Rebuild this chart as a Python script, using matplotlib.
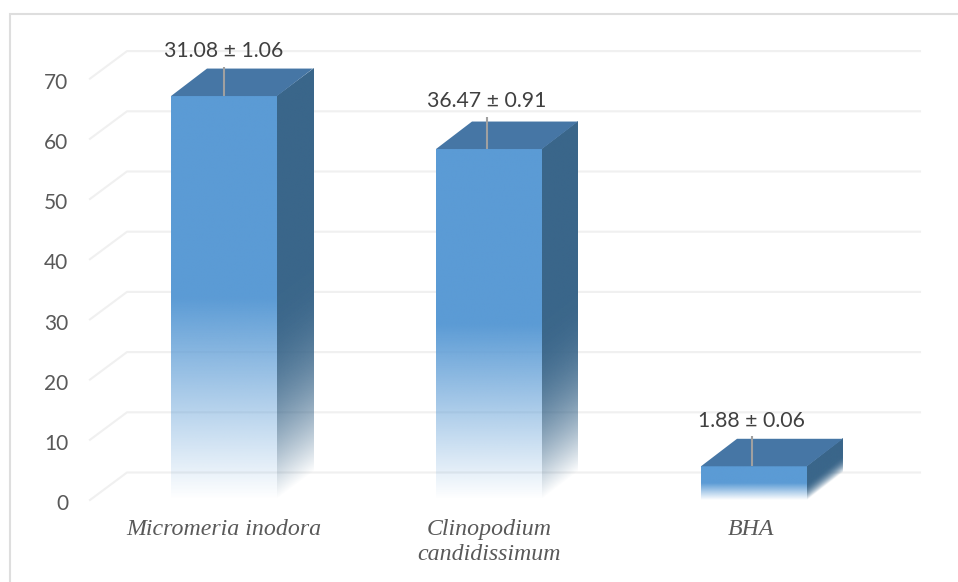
import matplotlib
matplotlib.use("Agg")
import matplotlib.pyplot as plt
import numpy as np
from matplotlib.patches import Polygon
from matplotlib.transforms import Affine2D

categories = ["Micromeria inodora", "Clinopodium\ncandidissimum", "BHA"]
values = [67.1, 58.3, 5.6]
value_labels = ["31.08 ± 1.06", "36.47 ± 0.91", "1.88 ± 0.06"]
y_ticks = [0, 10, 20, 30, 40, 50, 60, 70]

FRONT = (0x5b / 255, 0x9b / 255, 0xd5 / 255)
SIDE = (0x3a / 255, 0x66 / 255, 0x8a / 255)
TOP = "#4676a5"
GRID = "#f0f0f0"

# 3d look: everything in pixels converted to data units
W, H = 958, 582
X_UNIT = 265.0
Y_UNIT = 6.02
X0_PX = 224.0
Y0_PX = 500.0
bar_w = 106 / X_UNIT
dx = 36 / X_UNIT
dy = 27.5 / Y_UNIT
# leader lines and value labels sit a little left of the bar centre
leader_shift = [0 / X_UNIT, -2 / X_UNIT, -2.5 / X_UNIT]
leader_len = [29 / Y_UNIT, 32 / Y_UNIT, 30 / Y_UNIT]
cat_shift = [-0.5 / X_UNIT, 0 / X_UNIT, -3 / X_UNIT]


def fade_image(color, ease=False, n=200):
    # solid over the top half, fades out towards the floor
    t = np.linspace(1, 0, n)
    alpha = np.clip(t / 0.5, 0, 1)
    if ease:
        alpha = 1 - (1 - alpha) ** 2
    img = np.ones((n, 1, 4))
    img[:, :, :3] = color
    img[:, 0, 3] = alpha
    return img


def draw_bar(ax, x, v, shift, length):
    left = x - bar_w / 2
    right = x + bar_w / 2
    ax.imshow(fade_image(FRONT), extent=(left, right, 0, v), aspect="auto",
              origin="upper", interpolation="bilinear", zorder=3)
    # side wall is the same gradient sheared up along the depth
    shear = Affine2D.from_values(1, dy / dx, 0, 1, 0, -right * dy / dx)
    ax.imshow(fade_image(SIDE, ease=True), extent=(right, right + dx, 0, v), aspect="auto",
              origin="upper", interpolation="bilinear", zorder=3,
              transform=shear + ax.transData)
    ax.add_patch(Polygon([(left, v), (right, v), (right + dx, v + dy), (left + dx, v + dy)],
                         closed=True, facecolor=TOP, edgecolor="none", zorder=4))
    ax.plot([x + shift, x + shift], [v, v + length], color="#a0a0a0", lw=1.5, zorder=5,
            solid_capstyle="butt")


def main() -> None:
    fig = plt.figure(figsize=(W / 100, H / 100), dpi=100)
    ax = fig.add_axes([0, 0, 1, 1])
    ax.axis("off")

    fx = lambda px: (px - X0_PX) / X_UNIT
    fy = lambda py: (Y0_PX - py) / Y_UNIT

    # chart frame, only top and left edges show
    ax.plot([fx(9.5), fx(9.5), fx(W)], [fy(H), fy(14), fy(14)],
            color="#dedede", lw=1.5, zorder=1, solid_joinstyle="miter")

    # back wall gridlines with the slanted floor part
    for t in y_ticks:
        ax.plot([fx(90), fx(90) + dx + 1 / X_UNIT, fx(920)],
                [t, t + dy, t + dy], color=GRID, lw=1.5, zorder=2, solid_joinstyle="miter")
        ax.text(fx(68.5), t - 0.7, str(t), ha="right", va="center", fontsize=15,
                family="Lato", color="#595959", zorder=6)

    positions = np.arange(len(categories))
    for i, (x, v, lab, cat) in enumerate(zip(positions, values, value_labels, categories)):
        draw_bar(ax, x, v, leader_shift[i], leader_len[i])
        ax.text(x + leader_shift[i] - 0.002, v + leader_len[i] + 2.6, lab, ha="center", va="center",
                fontsize=15.3, family="Lato", color="#404040", zorder=6)
        ax.text(x + cat_shift[i], fy(519), cat, ha="center", va="top", fontsize=17.2,
                family="Liberation Serif", style="italic", color="#595959",
                linespacing=1.25, zorder=6)

    ax.set_xlim(fx(0), fx(W))
    ax.set_ylim(fy(H), fy(0))
    fig.savefig("out.png", dpi=100, facecolor="white")


if __name__ == "__main__":
    main()
